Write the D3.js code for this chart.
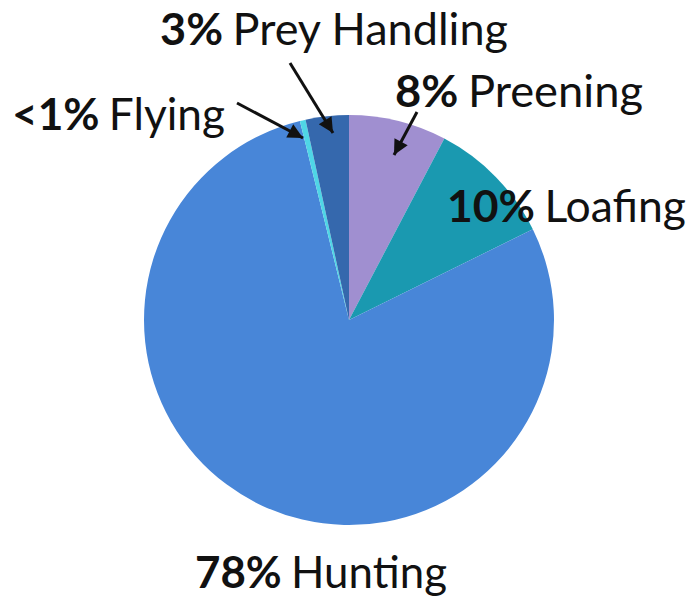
<!DOCTYPE html>
<html><head><meta charset="utf-8">
<script src="https://cdn.jsdelivr.net/npm/d3@7"></script>
<style>body{margin:0;background:#fff}svg{display:block}text{font-family:Lato,sans-serif;fill:#111}</style>
</head><body>
<svg id="c" width="691" height="602"></svg>
<script>
const categories = ["Preening","Loafing","Hunting","Flying","Prey Handling"];
const values = [7.7, 10.0, 78.45, 0.45, 3.4];
const pctLabels = ["8%","10%","78%","<1%","3%"];
const colors = ["#a08fd0","#1a99b0","#4886d8","#4fd6e6","#3568ad"];

const svg = d3.select("#c");
const cx = 349, cy = 320, r = 205;
const data = categories.map((c,i)=>({cat:c,value:values[i],pct:pctLabels[i],color:colors[i]}));
const pie = d3.pie().value(d=>d.value).sort(null);
const arc = d3.arc().innerRadius(0).outerRadius(r);
const g = svg.append("g").attr("transform",`translate(${cx},${cy})`);
g.selectAll("path").data(pie(data)).join("path").attr("d",arc).attr("fill",d=>d.data.color);

const defs = svg.append("defs");
defs.append("marker").attr("id","ah").attr("viewBox","0 0 10 10").attr("refX",10).attr("refY",5)
  .attr("markerWidth",6.5).attr("markerHeight",5).attr("markerUnits","strokeWidth").attr("orient","auto")
  .append("path").attr("d","M0,0 L10,5 L0,10 z").attr("fill","#111");

// label layout: [x, baseline y, arrow from, arrow to]
const layout = {
  "Preening":[395,107,[417,112],[394,155]],
  "Loafing":[447,222,null,null],
  "Hunting":[195,588,null,null],
  "Flying":[12,130,[237,103],[303,138]],
  "Prey Handling":[160,45,[290,63],[333,133]]
};
const targetW = {"Preening":248,"Loafing":239,"Hunting":252,"Flying":213,"Prey Handling":348};
data.forEach(d=>{
  const L = layout[d.cat];
  const t = svg.append("text").attr("x",L[0]).attr("y",L[1]).attr("font-size",44);
  t.append("tspan").attr("font-weight","bold").text(d.pct);
  t.append("tspan").attr("dx",-2).text(" "+d.cat);
  const w = t.node().getComputedTextLength();
  t.attr("textLength",targetW[d.cat]).attr("lengthAdjust","spacingAndGlyphs");
  if(L[2]){
    svg.append("line").attr("x1",L[2][0]).attr("y1",L[2][1]).attr("x2",L[3][0]).attr("y2",L[3][1])
      .attr("stroke","#111").attr("stroke-width",3).attr("marker-end","url(#ah)");
  }
});
</script>
</body></html>
